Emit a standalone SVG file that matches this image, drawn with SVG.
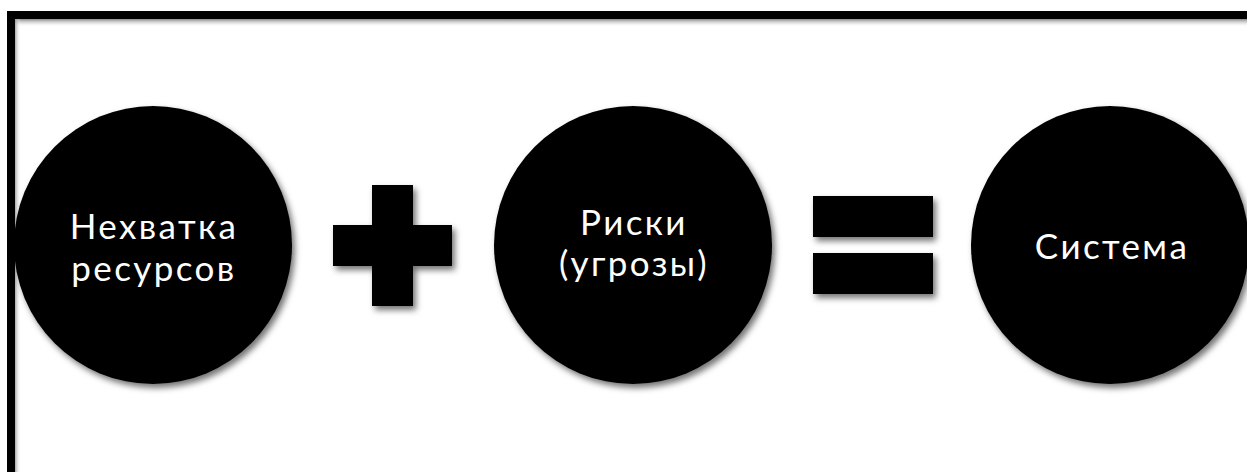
<svg xmlns="http://www.w3.org/2000/svg" width="1247" height="472" viewBox="0 0 1247 472">
<defs>
<filter id="shadow" x="-20%" y="-20%" width="140%" height="140%">
<feDropShadow dx="3" dy="4" stdDeviation="3" flood-color="#000" flood-opacity="0.55"/>
</filter>
<linearGradient id="topShade" x1="0" y1="0" x2="0" y2="1">
<stop offset="0" stop-color="#888"/>
<stop offset="1" stop-color="#fff" stop-opacity="0"/>
</linearGradient>
<linearGradient id="leftShade" x1="0" y1="0" x2="1" y2="0">
<stop offset="0" stop-color="#888"/>
<stop offset="1" stop-color="#fff" stop-opacity="0"/>
</linearGradient>
</defs>
<style>
.node{fill:#000;filter:url(#shadow)}
.op{fill:#000;filter:url(#shadow)}
.lbl{fill:#fff;font-family:Lato,"Open Sans","Liberation Sans",sans-serif;font-size:35px;letter-spacing:2.4px;text-anchor:middle}
</style>
<rect width="1247" height="472" fill="#fff"/>
<g id="frame">
<rect x="14" y="19" width="1240" height="8" fill="url(#topShade)"/>
<rect x="14" y="19" width="7" height="460" fill="url(#leftShade)"/>
<rect x="11" y="15" width="1250" height="470" fill="none" stroke="#000" stroke-width="8"/>
</g>
<g id="node-shortage">
<circle class="node" cx="153" cy="245" r="139"/>
<text class="lbl" x="154" y="239">Нехватка</text>
<text class="lbl" x="154" y="281">ресурсов</text>
</g>
<g id="node-risks">
<circle class="node" cx="633" cy="245" r="139"/>
<text class="lbl" x="634" y="235">Риски</text>
<text class="lbl" x="634" y="276">(угрозы)</text>
</g>
<g id="node-system">
<circle class="node" cx="1110" cy="245" r="139"/>
<text class="lbl" x="1112" y="259">Система</text>
</g>
<g id="connectors">
<g id="plus">
<path class="op" d="M372 185H413V225H452V266H413V306H372V266H333V225H372Z"/>
</g>
<g id="equals" filter="url(#shadow)">
<rect x="813" y="196" width="120" height="41" fill="#000"/>
<rect x="813" y="253" width="120" height="41" fill="#000"/>
</g>
</g>
</svg>
